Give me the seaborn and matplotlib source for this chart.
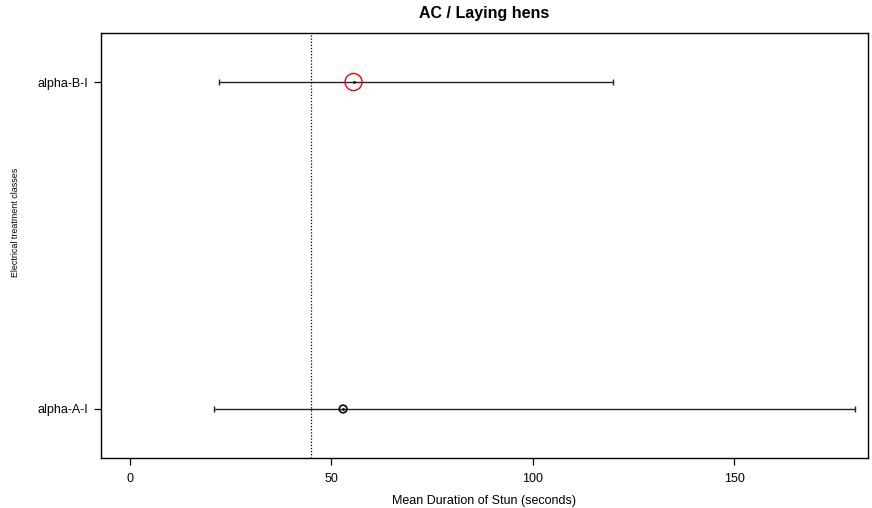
import matplotlib
matplotlib.use("Agg")
import matplotlib.pyplot as plt
import seaborn as sns
import pandas as pd

# values
classes = ["alpha-A-I", "alpha-B-I"]
means = [52.9, 55.5]
lower = [20.9, 22.1]
upper = [180.0, 120.0]
ref_line = 44.9

df = pd.DataFrame({"cls": classes, "mean": means, "lo": lower, "hi": upper})

sns.set_theme(style="white")
plt.rcParams["font.family"] = ["Liberation Sans", "DejaVu Sans"]
plt.rcParams["text.color"] = "black"
plt.rcParams["axes.labelcolor"] = "black"
plt.rcParams["xtick.color"] = "black"
plt.rcParams["ytick.color"] = "black"

fig = plt.figure(figsize=(8.72, 5.08), dpi=100)
ax = fig.add_axes([101 / 872, 1 - 458 / 508, 767 / 872, 425 / 508])

# interval lines with small caps
ax.errorbar(df["mean"], df["cls"],
            xerr=[df["mean"] - df["lo"], df["hi"] - df["mean"]],
            fmt="none", ecolor="#222222", elinewidth=1, capsize=2, capthick=1)

# point estimates
sns.scatterplot(data=df[df["cls"] == "alpha-B-I"], x="mean", y="cls", ax=ax,
                marker="o", s=150, facecolors="none", edgecolor="red",
                linewidth=1, zorder=4)
sns.scatterplot(data=df[df["cls"] == "alpha-A-I"], x="mean", y="cls", ax=ax,
                marker="o", s=30, facecolors="none", edgecolor="black",
                linewidth=1.2, zorder=4)
sns.scatterplot(data=df, x="mean", y="cls", ax=ax, color="black", s=4,
                linewidth=0, zorder=5)

ax.axvline(ref_line, color="black", lw=0.9, linestyle=(0, (1, 1.5)))

ax.set_xlim(-7.2, 183.2)
ax.set_ylim(-0.15, 1.15)
ax.set_xticks([0, 50, 100, 150])
ax.set_xticklabels(["0", "50", "100", "150"])

for s in ax.spines.values():
    s.set_color("black")
    s.set_linewidth(1)

ax.tick_params(axis="both", which="both", direction="out", length=5, width=0.9,
               color="black", labelsize=9, bottom=True, left=True)
ax.tick_params(axis="x", pad=6)
ax.tick_params(axis="y", pad=4)

ax.set_title("AC / Laying hens", fontsize=11.5, fontweight="bold", pad=11)
ax.set_xlabel("Mean Duration of Stun (seconds)", fontsize=9, labelpad=7)
ax.set_ylabel("")
fig.text(16 / 872, 1 - 222 / 508, "Electrical treatment classes", fontsize=6.4,
         rotation=90, ha="center", va="center")

fig.savefig("out.png", dpi=100)
